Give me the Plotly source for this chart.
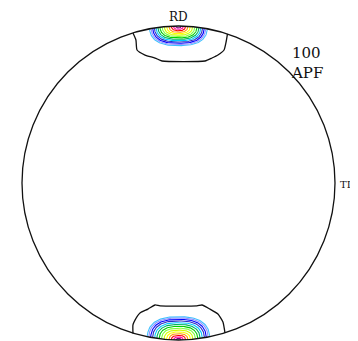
import numpy as np
import plotly.graph_objects as go

# ---- data (pole figure, unit circle coordinates) ----
level_colors = ["#40c0ff", "#9090ff", "#0000ff", "#3030c0", "#00c8ff", "#00b060",
                "#00d000", "#80ff40", "#d0ff00", "#ffff00", "#ff9900", "#ff0000",
                "#ff00a0", "#800080"]
# half-widths / depths of each intensity contour around the RD poles (fraction of radius)
top_halfwidth = [0.185, 0.175, 0.165, 0.154, 0.143, 0.131, 0.118, 0.104, 0.090, 0.075, 0.060, 0.045, 0.031, 0.017]
top_depth     = [0.125, 0.118, 0.110, 0.102, 0.094, 0.085, 0.076, 0.067, 0.058, 0.049, 0.040, 0.030, 0.021, 0.012]
bot_halfwidth = [0.200, 0.190, 0.178, 0.166, 0.152, 0.138, 0.123, 0.108, 0.092, 0.076, 0.060, 0.045, 0.030, 0.016]
bot_depth     = [0.148, 0.140, 0.131, 0.121, 0.110, 0.099, 0.087, 0.075, 0.063, 0.051, 0.040, 0.029, 0.019, 0.010]

# lowest (black) contour outlines
top_black_x = [-0.291, -0.272, -0.265, -0.214, -0.150, -0.105, 0.169, 0.214, 0.252, 0.291, 0.304, 0.313]
top_black_y = [0.955, 0.911, 0.847, 0.815, 0.796, 0.777, 0.777, 0.796, 0.815, 0.847, 0.898, 0.950]
bot_black_x = [-0.291, -0.291, -0.278, -0.246, -0.195, -0.150, -0.118, 0.118, 0.150, 0.201, 0.252, 0.284, 0.297]
bot_black_y = [-0.958, -0.904, -0.873, -0.828, -0.803, -0.777, -0.783, -0.783, -0.777, -0.803, -0.834, -0.885, -0.955]

fig = go.Figure()

def contour(hw, dp, sign):
    t = np.linspace(0, np.pi, 90)
    c, s = np.cos(t), np.sin(t)
    n = 2.6
    x = hw * np.sign(c) * np.abs(c) ** (2 / n)
    y = sign * (1 - dp * np.abs(s) ** (2 / n))
    keep = x ** 2 + y ** 2 <= 1.0
    return x[keep], y[keep]

for col, hw, dp in zip(level_colors, top_halfwidth, top_depth):
    x, y = contour(hw, dp, 1)
    fig.add_trace(go.Scatter(x=x, y=y, mode="lines", line=dict(color=col, width=1.1),
                             hoverinfo="skip", showlegend=False))
for col, hw, dp in zip(level_colors, bot_halfwidth, bot_depth):
    x, y = contour(hw, dp, -1)
    fig.add_trace(go.Scatter(x=x, y=y, mode="lines", line=dict(color=col, width=1.1),
                             hoverinfo="skip", showlegend=False))

fig.add_trace(go.Scatter(x=top_black_x, y=top_black_y, mode="lines",
                         line=dict(color="#111111", width=1.3, shape="spline", smoothing=0.5),
                         hoverinfo="skip", showlegend=False))
fig.add_trace(go.Scatter(x=bot_black_x, y=bot_black_y, mode="lines",
                         line=dict(color="#111111", width=1.3, shape="spline", smoothing=0.5),
                         hoverinfo="skip", showlegend=False))

fig.add_shape(type="circle", xref="x", yref="y", x0=-1, y0=-1, x1=1, y1=1,
              line=dict(color="#111111", width=1.3))

# page body margin (8px) is compensated: figure is 350x333 placed at (8, 8)
OFF = 8
W, H = 358 - OFF, 341 - OFF
cx, cy, rx, ry = 178.5 - OFF, 183 - OFF, 156.5, 157
fig.update_xaxes(range=[-cx / rx, (W - cx) / rx], visible=False, fixedrange=True)
fig.update_yaxes(range=[-(H - cy) / ry, cy / ry], visible=False, fixedrange=True)

def px(x): return (x - OFF) / W
def py(y): return 1 - (y - OFF) / H

serif = "DejaVu Serif"
fig.add_annotation(x=px(178), y=py(9), xref="paper", yref="paper", text="RD",
                   showarrow=False, yanchor="top", borderpad=0,
                   font=dict(family=serif, size=12, color="#111111"))
fig.add_annotation(x=px(290), y=py(42.5), xref="paper", yref="paper", text="100<br>APF",
                   showarrow=False, xanchor="left", align="left", borderpad=0,
                   font=dict(family=serif, size=15, color="#111111"))
fig.add_annotation(x=px(357), y=py(184), xref="paper", yref="paper", text="TD",
                   showarrow=False, xanchor="right", font=dict(family=serif, size=10, color="#111111"))

fig.update_layout(width=W, height=H, margin=dict(l=0, r=0, t=0, b=0),
                  paper_bgcolor="white", plot_bgcolor="white")
fig.write_html("out.html")
